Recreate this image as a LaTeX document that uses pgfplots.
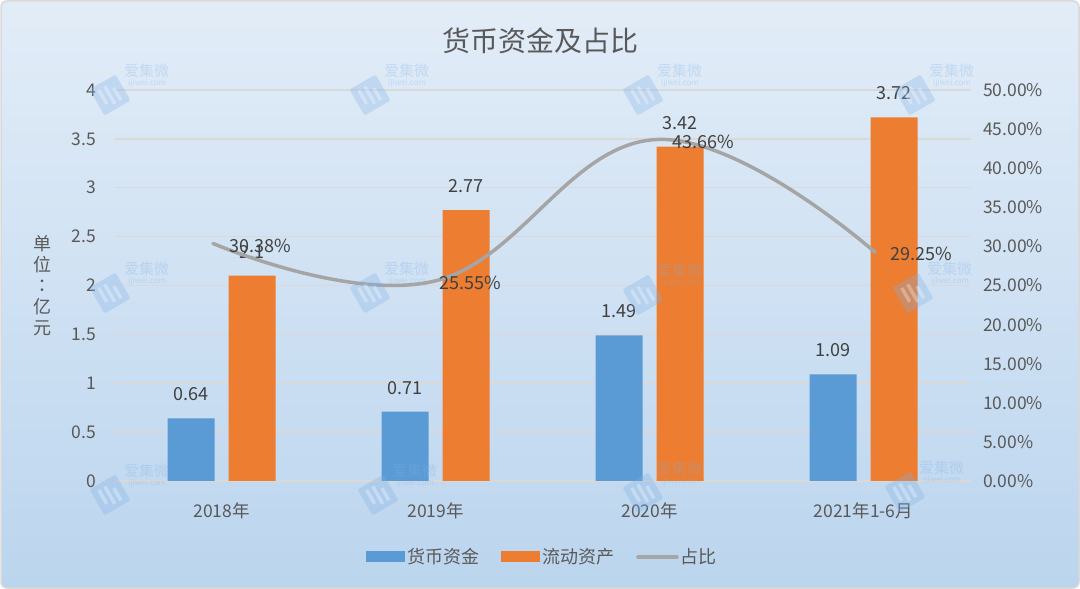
\documentclass[border=0pt]{standalone}
\usepackage{fontspec}
\setmainfont{Noto Sans CJK SC}
\newfontfamily\tcfont{Noto Sans CJK TC}
\usepackage{pgfplots}
\pgfplotsset{compat=1.18}
\definecolor{myblue}{HTML}{5B9BD5}
\definecolor{myorange}{HTML}{ED7D31}
\definecolor{linegrey}{HTML}{A5A5A5}
\definecolor{gridgrey}{HTML}{D9D9D9}
\definecolor{tickgrey}{HTML}{595959}
\definecolor{labgrey}{HTML}{404040}
\definecolor{bgA}{HTML}{F5F8FC}
\definecolor{bgB}{HTML}{CFE1F3}
\definecolor{bgC}{HTML}{BBD5EE}
\definecolor{bgD}{HTML}{C4DBF0}
\definecolor{wmblue}{HTML}{7FB0E6}
\pgfdeclareverticalshading{bgshade}{100bp}{color(0bp)=(bgD); color(25bp)=(bgC); color(50bp)=(bgB); color(100bp)=(bgA)}
\newcommand\lab{\fontsize{18bp}{21bp}\selectfont}
\newcommand\tik{\fontsize{17.5bp}{21bp}\selectfont}
\newcommand\wm[2]{%
  \begin{scope}[shift={(#1bp,#2bp)}, opacity=0.3]
    \begin{scope}[rotate=30]
    \fill[wmblue, rounded corners=2bp] (-15bp,-15bp) rectangle (15bp,15bp);
    \fill[white] (-9bp,-6bp) rectangle (-5.5bp,10bp);
    \fill[white] (-2bp,-10bp) rectangle (1.5bp,10bp);
    \fill[white] (5bp,-10bp) rectangle (8.5bp,4bp);
    \end{scope}
    \node[anchor=west, text=wmblue, inner sep=0pt, font=\fontsize{15bp}{15bp}\selectfont] at (14bp,24bp) {爱集微};
    \node[anchor=west, text=wmblue, inner sep=0pt, font=\fontsize{8bp}{8bp}\selectfont] at (18bp,12bp) {ijiwei.com};
  \end{scope}}
\begin{document}
\begin{tikzpicture}
\fill[white] (0,0) rectangle (1080bp,589bp);
\shade[shading=bgshade, rounded corners=6bp, draw=gridgrey, line width=1.5bp] (1bp,1bp) rectangle (1079bp,588bp);
\node[text=tickgrey, font=\fontsize{28bp}{30bp}\selectfont] at (540bp,548bp) {货币资金及占比};
\node[text=tickgrey, align=center, font=\fontsize{18bp}{21bp}\selectfont] at (42bp,303bp) {单\\位\\{\tcfont ：}\\亿\\元};
\begin{axis}[
  at={(114.5bp,108bp)}, anchor=south west, scale only axis,
  width=856bp, height=391bp,
  xmin=-0.5, xmax=3.5, ymin=0, ymax=4,
  /pgf/number format/assume math mode=true,
  axis line style={draw=none}, major tick length=0pt,
  ymajorgrids, grid style={color=gridgrey, line width=1.5bp},
  xtick={0,1,2,3}, xticklabels={2018年,2019年,2020年,2021年1-6月},
  ytick={0,0.5,1,1.5,2,2.5,3,3.5,4},
  yticklabels={0,0.5,1,1.5,2,2.5,3,3.5,4},
  tick label style={text=tickgrey, font=\tik},
  yticklabel style={xshift=-15bp},
  xticklabel style={yshift=-18bp},
  ybar, bar width=47bp,
  nodes near coords,
  every node near coord/.append style={anchor=center, yshift=24bp, text=labgrey, font=\lab},
  legend columns=3,
  legend style={at={(0.5,-0.194)}, anchor=center, draw=none, fill=none, text=tickgrey, font=\lab,
    /tikz/every even column/.append style={column sep=20bp}},
]
\addplot[fill=myblue, draw=none, bar shift=-30.5bp,
  legend image code/.code={\fill[myblue] (0bp,-5.5bp) rectangle (39bp,5.5bp);}]
  coordinates {(0,0.64) (1,0.71) (2,1.49) (3,1.09)};
\addlegendentry{货币资金}
\addplot[fill=myorange, draw=none, bar shift=30.5bp,
  legend image code/.code={\fill[myorange] (0bp,-5.5bp) rectangle (39bp,5.5bp);}]
  coordinates {(0,2.1) (1,2.77) (2,3.42) (3,3.72)};
\addlegendentry{流动资产}
\addlegendimage{legend image code/.code={\draw[linegrey, line width=3.5bp, line cap=round] (1bp,0bp) -- (40bp,0bp);}}
\addlegendentry{占比}
\end{axis}
\begin{axis}[
  at={(114.5bp,108bp)}, anchor=south west, scale only axis,
  width=856bp, height=391bp,
  xmin=-0.5, xmax=3.5, ymin=0, ymax=50,
  axis y line*=right, axis x line=none,
  axis line style={draw=none}, major tick length=0pt,
  ytick={0,5,10,15,20,25,30,35,40,45,50},
  yticklabel={\pgfmathprintnumber[fixed,fixed zerofill,precision=2,assume math mode=true]{\tick}\%},
  tick label style={text=tickgrey, font=\tik},
  yticklabel style={xshift=9bp},
]
\addplot[color=linegrey, line width=3.5bp, line cap=round, smooth, tension=0.7, mark=none]
  coordinates {(-0.04,30.38) (0.993,25.55) (2.026,43.66) (3.054,29.25)};
\node[anchor=west, text=labgrey, font=\lab, xshift=13bp, yshift=-2bp] at (axis cs:-0.04,30.38) {30.38\%};
\node[anchor=west, text=labgrey, font=\lab, xshift=2bp, yshift=-2bp] at (axis cs:0.993,25.55) {25.55\%};
\node[anchor=west, text=labgrey, font=\lab, xshift=14bp, yshift=-2bp] at (axis cs:2.026,43.66) {43.66\%};
\node[anchor=west, text=labgrey, font=\lab, xshift=12bp, yshift=-2bp] at (axis cs:3.054,29.25) {29.25\%};
\end{axis}
\wm{110}{494}\wm{370}{494}\wm{643}{494}\wm{915}{494}
\wm{110}{296}\wm{370}{296}\wm{643}{294}\wm{913}{296}
\wm{110}{94}\wm{378}{94}\wm{643}{96}\wm{905}{97}
\pgfresetboundingbox
\path[use as bounding box] (0,0) rectangle (1080bp,589bp);
\end{tikzpicture}
\end{document}
